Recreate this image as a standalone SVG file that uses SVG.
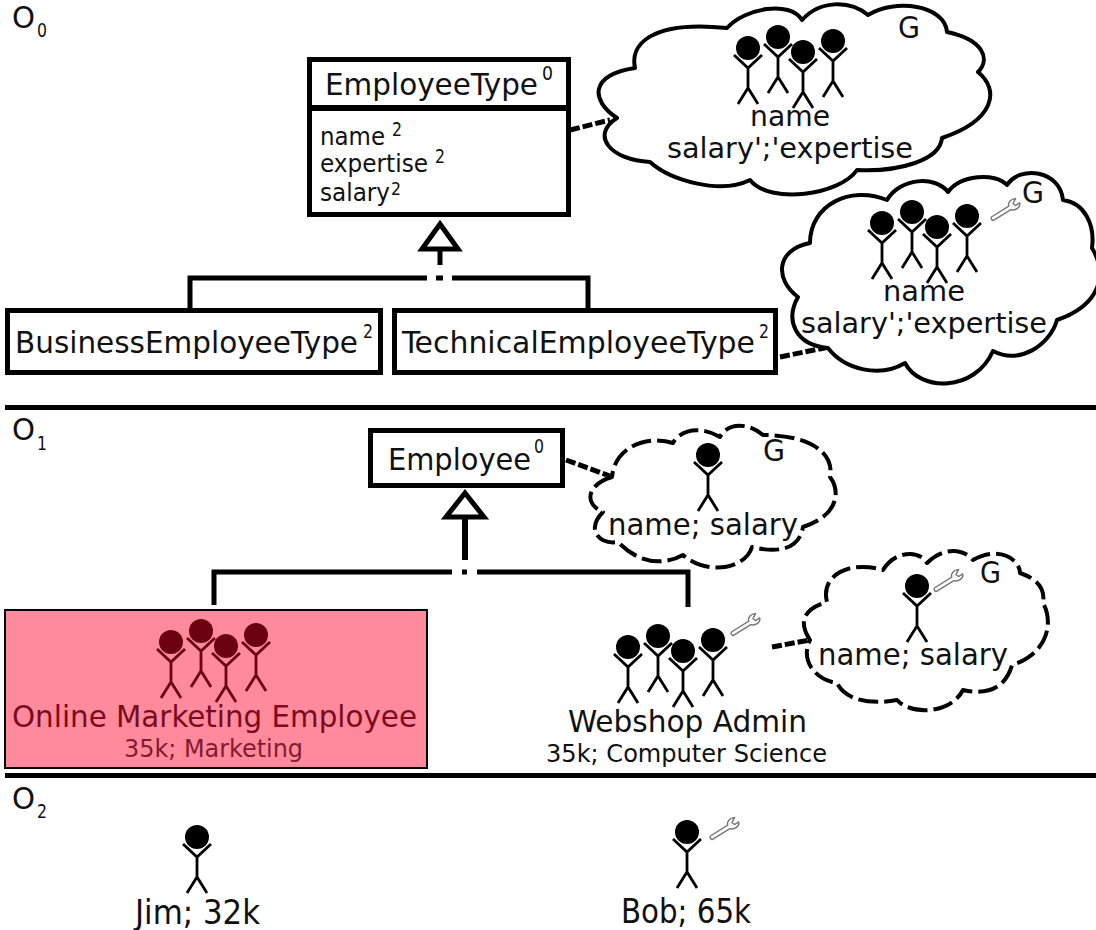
<svg xmlns="http://www.w3.org/2000/svg" xmlns:xlink="http://www.w3.org/1999/xlink" width="1096" height="930" viewBox="0 0 1096 930">
<style>
text{font-family:"DejaVu Sans","Liberation Sans",sans-serif;font-stretch:condensed;fill:#111}
.box{fill:#fff;stroke:#000;stroke-width:5}
.cloud{fill:#fff;stroke:#000;stroke-width:4;stroke-linejoin:round}
.dash{stroke-dasharray:20 6}
.line{fill:none;stroke:#000;stroke-width:5}
.conn{fill:none;stroke:#000;stroke-width:5;stroke-dasharray:10 3}
.tri{fill:#fff;stroke:#000;stroke-width:5;stroke-linejoin:miter}
.rule{stroke:#000;stroke-width:5}
.wr{fill:#fff;stroke:#777;stroke-width:1.4;stroke-linejoin:round}
.t31{font-size:31px}.t28{font-size:28px}.t25{font-size:25px}.t24{font-size:24px}.t33{font-size:33px}.sup{font-size:20px}.sup18{font-size:18px}.sub{font-size:20px}
</style>
<defs>
<g id="person"><circle cx="0" cy="0" r="12" fill="currentColor"/><path d="M-14,7 L0,20 L14,7 M0,20 V40 M-10,56 L0,40 L10,56" fill="none" stroke="currentColor" stroke-width="2.8"/></g>
<g id="four"><use xlink:href="#person" x="0" y="11"/><use xlink:href="#person" x="30" y="0"/><use xlink:href="#person" x="55" y="15"/><use xlink:href="#person" x="85" y="4"/></g>
<path id="wrench" class="wr" d="M1,-2 L21,-2 C22,-6 27,-7 31,-5 L26,-2 L27,1 L32,1 C31,5 24,6 21,2 L1,2 C-1,2 -1,-2 1,-2Z"/>
</defs>

<g id="connectors">
<path class="conn" d="M570,130 L610,120"/>
<path class="conn" d="M780,357 L829,347"/>
<path class="conn" d="M566,460 L610,476"/>
<path class="conn" d="M772,647 L810,640"/>
<path class="line" d="M190,308 V278 H427 M452,278 H588 V308 M436,278 H443 M440,250 V265"/>
<path class="line" d="M214,605 V572 H452 M477,572 H688 V607 M462,572 H467"/>
<path class="line" d="M465,517 V560" style="stroke-width:6"/>
<path class="tri" d="M440,224 L458,249 H422Z"/>
<path class="tri" d="M465,493 L484,517 H446Z"/>
</g>

<g id="levels">
<line class="rule" x1="5" y1="407.5" x2="1096" y2="407.5"/>
<line class="rule" x1="5" y1="775.5" x2="1096" y2="775.5"/>
<text class="t31"><tspan x="12" y="28" textLength="23" lengthAdjust="spacingAndGlyphs">O</tspan><tspan x="37" y="37" class="sub" textLength="10" lengthAdjust="spacingAndGlyphs">0</tspan></text>
<text class="t31"><tspan x="12" y="440" textLength="23" lengthAdjust="spacingAndGlyphs">O</tspan><tspan x="37" y="450" class="sub" textLength="10" lengthAdjust="spacingAndGlyphs">1</tspan></text>
<text class="t31"><tspan x="12" y="809" textLength="23" lengthAdjust="spacingAndGlyphs">O</tspan><tspan x="37" y="818" class="sub" textLength="10" lengthAdjust="spacingAndGlyphs">2</tspan></text>
</g>

<g id="EmployeeType">
<rect class="box" x="309.5" y="59.5" width="259" height="155"/>
<line x1="309" y1="108" x2="569" y2="108" stroke="#000" stroke-width="6"/>
<text class="t31"><tspan x="325" y="95" textLength="213" lengthAdjust="spacingAndGlyphs">EmployeeType</tspan><tspan x="542" y="80" class="sup" textLength="11" lengthAdjust="spacingAndGlyphs">0</tspan></text>
<text class="t24"><tspan x="320" y="145" textLength="65" lengthAdjust="spacingAndGlyphs">name</tspan><tspan x="392" y="136" class="sup" textLength="10" lengthAdjust="spacingAndGlyphs">2</tspan><tspan x="320" y="172" textLength="108" lengthAdjust="spacingAndGlyphs">expertise</tspan><tspan x="435" y="163" class="sup" textLength="10" lengthAdjust="spacingAndGlyphs">2</tspan><tspan x="320" y="201" textLength="70" lengthAdjust="spacingAndGlyphs">salary</tspan><tspan x="391" y="195" class="sup18" textLength="10" lengthAdjust="spacingAndGlyphs">2</tspan></text>
</g>

<g id="BusinessEmployeeType">
<rect class="box" x="7.5" y="310.5" width="373" height="62"/>
<text class="t31"><tspan x="15" y="353" textLength="343" lengthAdjust="spacingAndGlyphs">BusinessEmployeeType</tspan><tspan x="363" y="338" class="sup" textLength="10" lengthAdjust="spacingAndGlyphs">2</tspan></text>
</g>

<g id="TechnicalEmployeeType">
<rect class="box" x="394.5" y="310.5" width="381" height="62"/>
<text class="t31"><tspan x="402" y="353" textLength="353" lengthAdjust="spacingAndGlyphs">TechnicalEmployeeType</tspan><tspan x="759" y="338" class="sup" textLength="10" lengthAdjust="spacingAndGlyphs">2</tspan></text>
</g>

<g id="cloud-type">
<path class="cloud" d="M617,118 C590,100 590,75 635,68 C630,45 650,20 727,28 C745,8 790,0 802,20 C820,0 850,0 868,15 C895,-2 945,5 947,32 C985,40 990,60 978,72 C1000,90 995,120 942,138 C940,160 900,172 857,170 C840,195 770,205 750,180 C720,195 670,180 650,162 C610,160 590,135 617,118Z"/>
<use xlink:href="#four" x="748" y="37" color="#000"/>
<text class="t28"><tspan x="750" y="126" textLength="80" lengthAdjust="spacingAndGlyphs">name</tspan><tspan x="667" y="158" textLength="246" lengthAdjust="spacingAndGlyphs">salary';'expertise</tspan></text>
<text x="898" y="38" class="t31" textLength="22" lengthAdjust="spacingAndGlyphs">G</text>
</g>

<g id="cloud-tech">
<path class="cloud" d="M828,348 C795,345 785,320 798,297 C775,280 775,250 810,243 C810,205 850,185 887,200 C900,178 935,175 948,192 C960,175 995,172 1007,185 C1020,165 1060,170 1063,200 C1085,203 1095,225 1092,248 C1108,275 1100,305 1057,320 C1050,345 1020,365 993,351 C975,392 920,392 905,363 C880,378 845,370 828,348Z"/>
<use xlink:href="#four" x="882" y="212" color="#000"/>
<use xlink:href="#wrench" transform="translate(992,219) rotate(-32)"/>
<text class="t28"><tspan x="883" y="301" textLength="82" lengthAdjust="spacingAndGlyphs">name</tspan><tspan x="801" y="333" textLength="246" lengthAdjust="spacingAndGlyphs">salary';'expertise</tspan></text>
<text x="1022" y="203" class="t31" textLength="22" lengthAdjust="spacingAndGlyphs">G</text>
</g>

<g id="Employee">
<rect class="box" x="370.5" y="430.5" width="192" height="55"/>
<text class="t31"><tspan x="388" y="470" textLength="143" lengthAdjust="spacingAndGlyphs">Employee</tspan><tspan x="534" y="453" class="sup" textLength="10" lengthAdjust="spacingAndGlyphs">0</tspan></text>
</g>

<g id="cloud-employee">
<path class="cloud dash" d="M612,477 C585,485 585,505 603,512 C585,530 600,545 618,542 C640,565 665,565 683,555 C705,575 745,570 752,547 C785,555 800,545 803,527 C840,515 840,490 830,477 C835,450 805,435 763,435 C745,420 725,425 720,437 C700,425 680,430 673,443 C650,435 615,445 612,477Z"/>
<use xlink:href="#person" x="708" y="455" color="#000"/>
<text x="608" y="535" class="t31" textLength="190" lengthAdjust="spacingAndGlyphs">name; salary</text>
<text x="763" y="461" class="t31" textLength="22" lengthAdjust="spacingAndGlyphs">G</text>
</g>

<g id="OnlineMarketingEmployee">
<rect x="5" y="610" width="422" height="158" fill="#ff8a9c" stroke="#000" stroke-width="2"/>
<use xlink:href="#four" x="171" y="631" color="#6a0010"/>
<text x="12" y="727" class="t31" textLength="405" lengthAdjust="spacingAndGlyphs" style="fill:#7c0a1e">Online Marketing Employee</text>
<text x="124" y="757" class="t25" textLength="179" lengthAdjust="spacingAndGlyphs" style="fill:#851a30">35k; Marketing</text>
</g>

<g id="WebshopAdmin">
<use xlink:href="#four" x="628" y="636" color="#000"/>
<use xlink:href="#wrench" transform="translate(732,634) rotate(-32)"/>
<text x="568" y="732" class="t31" textLength="239" lengthAdjust="spacingAndGlyphs">Webshop Admin</text>
<text x="546" y="762" class="t25" textLength="281" lengthAdjust="spacingAndGlyphs">35k; Computer Science</text>
</g>

<g id="cloud-admin">
<path class="cloud dash" d="M810,640 C800,625 800,610 827,602 C820,575 850,560 883,570 C895,550 920,550 927,563 C945,545 965,550 973,560 C1000,545 1020,560 1020,573 C1040,580 1045,590 1043,603 C1055,625 1045,655 1012,665 C1005,690 985,695 963,690 C950,715 910,715 897,700 C870,705 845,700 837,683 C815,680 800,660 810,640Z"/>
<use xlink:href="#person" x="917" y="586" color="#000"/>
<use xlink:href="#wrench" transform="translate(935,590) rotate(-32)"/>
<text x="818" y="665" class="t31" textLength="190" lengthAdjust="spacingAndGlyphs">name; salary</text>
<text x="980" y="583" class="t31" textLength="21" lengthAdjust="spacingAndGlyphs">G</text>
</g>

<g id="Jim">
<use xlink:href="#person" x="197" y="837" color="#000"/>
<text x="135" y="924" class="t33" textLength="125" lengthAdjust="spacingAndGlyphs">Jim; 32k</text>
</g>

<g id="Bob">
<use xlink:href="#person" x="687" y="832" color="#000"/>
<use xlink:href="#wrench" transform="translate(711,838) rotate(-32)"/>
<text x="621" y="923" class="t33" textLength="130" lengthAdjust="spacingAndGlyphs">Bob; 65k</text>
</g>
</svg>
